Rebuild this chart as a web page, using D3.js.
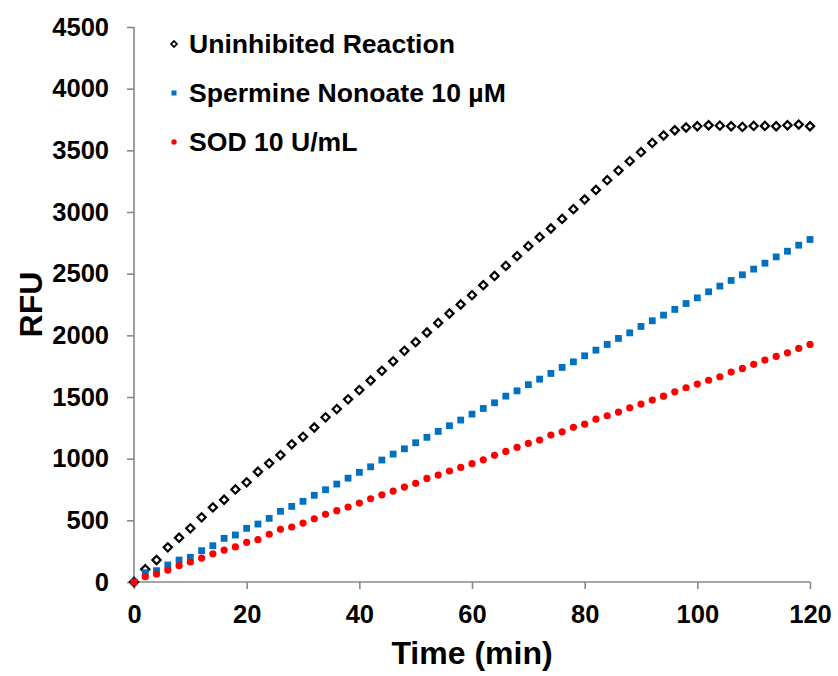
<!DOCTYPE html>
<html>
<head>
<meta charset="utf-8">
<script src="https://cdn.jsdelivr.net/npm/d3@7/dist/d3.min.js"></script>
<style>
  html, body { margin: 0; padding: 0; background: #fff; }
  svg { display: block; font-family: "Liberation Sans", Arial, sans-serif; }
</style>
</head>
<body>
<svg id="chart" width="838" height="676"></svg>
<script>
// ---- data ----
const times = d3.range(0, 121, 2); // 0,2,...,120 min
const uninhibited = [0,103,178,281,359,435,524,605,667,751,808,894,962,1029,1116,1177,1253,1335,1402,1481,1556,1634,1712,1789,1874,1945,2023,2101,2177,2250,2326,2407,2482,2563,2642,2723,2796,2866,2944,3023,3101,3179,3258,3336,3412,3485,3560,3620,3663,3685,3695,3703,3700,3695,3690,3698,3698,3695,3703,3709,3695];
const spermine = [0,75,92,138,178,200,254,294,354,381,435,470,516,573,613,654,703,748,794,842,889,934,989,1037,1080,1129,1173,1221,1267,1313,1361,1407,1453,1507,1550,1600,1645,1691,1740,1785,1834,1880,1926,1975,2020,2072,2118,2164,2210,2258,2304,2353,2399,2445,2491,2537,2585,2636,2682,2731,2777];
const sod = [0,43,65,97,132,162,194,229,259,284,322,343,387,427,446,478,513,549,578,608,640,675,707,737,770,800,840,867,900,929,959,991,1027,1059,1092,1124,1151,1191,1218,1254,1280,1320,1348,1378,1413,1443,1475,1507,1542,1575,1605,1636,1664,1702,1732,1765,1800,1829,1858,1894,1926];
const seriesNames = ["Uninhibited Reaction", "Spermine Nonoate 10 \u00b5M", "SOD 10 U/mL"];
const xTicks = [0, 20, 40, 60, 80, 100, 120];
const yTicks = [0, 500, 1000, 1500, 2000, 2500, 3000, 3500, 4000, 4500];

// ---- layout ----
const svg = d3.select("#chart");
const margin = {left: 134, top: 27, right: 28, bottom: 94};
const W = 838, H = 676;
const x = d3.scaleLinear().domain([0, 120]).range([margin.left, W - margin.right]);
const y = d3.scaleLinear().domain([0, 4500]).range([H - margin.bottom, margin.top]);
const axisColor = "#898989";

// axes
const xAxis = svg.append("g").attr("transform", `translate(0,${y(0)})`)
  .call(d3.axisBottom(x).tickValues(xTicks).tickFormat(d3.format("d")).tickSize(7).tickPadding(16));
const yAxis = svg.append("g").attr("transform", `translate(${x(0)},0)`)
  .call(d3.axisLeft(y).tickValues(yTicks).tickFormat(d3.format("d")).tickSize(7).tickPadding(18));
[xAxis, yAxis].forEach(g => {
  g.select(".domain").attr("stroke", axisColor).attr("stroke-width", 1.6);
  g.selectAll(".tick line").attr("stroke", axisColor).attr("stroke-width", 1.6);
  g.selectAll(".tick text").attr("fill", "#000").attr("font-size", 25.5).attr("font-weight", "bold")
    .attr("font-family", "'Liberation Sans', Arial, sans-serif");
});
xAxis.select(".domain").attr("d", `M${x(0)},0H${x(120)}`);
yAxis.select(".domain").attr("d", `M0,${y(4500)}V${y(0)}`);

// axis titles
svg.append("text").attr("x", x(60)).attr("y", 664).attr("text-anchor", "middle")
  .attr("font-size", 32).attr("font-weight", "bold").text("Time (min)");
svg.append("text").attr("transform", `translate(42,${y(2250)}) rotate(-90)`).attr("text-anchor", "middle")
  .attr("font-size", 32).attr("font-weight", "bold").text("RFU");

// ---- marks ----
const diamond = d3.symbol().type(d3.symbolSquare).size(34);
svg.append("g").selectAll("path").data(times.map((t, i) => [t, uninhibited[i]])).join("path")
  .attr("d", diamond())
  .attr("transform", d => `translate(${x(d[0])},${y(d[1])}) rotate(45)`)
  .attr("fill", "#fff").attr("stroke", "#000").attr("stroke-width", 2.2);

svg.append("g").selectAll("rect").data(times.map((t, i) => [t, spermine[i]])).join("rect")
  .attr("x", d => x(d[0]) - 3.4).attr("y", d => y(d[1]) - 3.4)
  .attr("width", 6.8).attr("height", 6.8).attr("fill", "#0070C0");

svg.append("g").selectAll("circle").data(times.map((t, i) => [t, sod[i]])).join("circle")
  .attr("cx", d => x(d[0])).attr("cy", d => y(d[1])).attr("r", 3.6).attr("fill", "#FF0000");

// ---- legend ----
const leg = svg.append("g");
const legY = [44, 93, 142];
leg.append("path").attr("d", d3.symbol().type(d3.symbolSquare).size(18)())
  .attr("transform", `translate(174,${legY[0]}) rotate(45)`)
  .attr("fill", "#fff").attr("stroke", "#000").attr("stroke-width", 1.6);
leg.append("rect").attr("x", 171.5).attr("y", legY[1] - 2.5).attr("width", 5).attr("height", 5).attr("fill", "#0070C0");
leg.append("circle").attr("cx", 174).attr("cy", legY[2]).attr("r", 2.7).attr("fill", "#FF0000");
seriesNames.forEach((n, i) => {
  leg.append("text").attr("x", 189).attr("y", legY[i] + 8.8).attr("font-size", 26.6)
    .attr("font-weight", "bold").text(n);
});
</script>
</body>
</html>
